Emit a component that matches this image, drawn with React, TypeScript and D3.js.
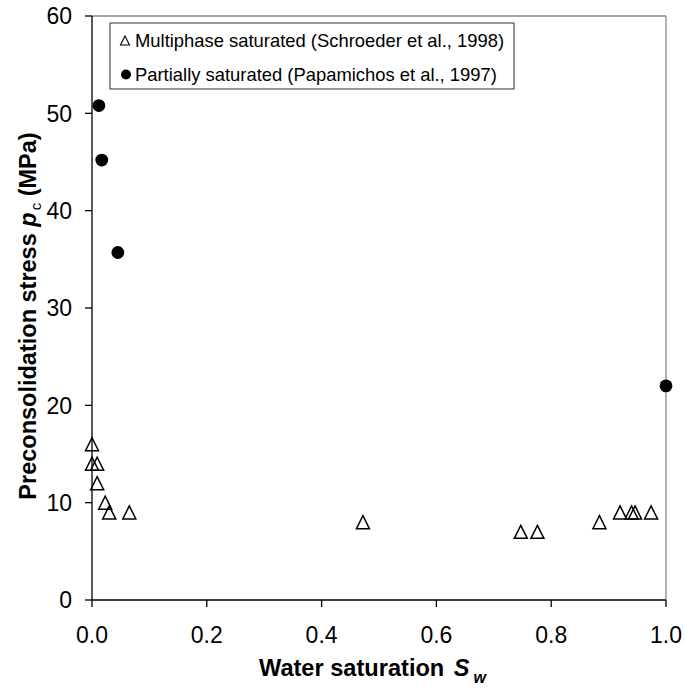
import React from "react";
import * as d3 from "d3";

const schroederSw = [0, 0, 0.009, 0.009, 0.023, 0.03, 0.065, 0.472, 0.747, 0.776, 0.884, 0.92, 0.94, 0.946, 0.974];
const schroederPc = [16, 14, 14, 12, 10, 9, 9, 8, 7, 7, 8, 9, 9, 9, 9];
const papamichosSw = [0.012, 0.017, 0.045, 1.0];
const papamichosPc = [50.8, 45.2, 35.7, 22.0];
const xTicks = [0, 0.2, 0.4, 0.6, 0.8, 1.0];
const yTicks = [0, 10, 20, 30, 40, 50, 60];
const legendLabels = [
  "Multiphase saturated (Schroeder et al., 1998)",
  "Partially saturated (Papamichos et al., 1997)",
];

const W = 685;
const H = 690;
const left = 92;
const right = 666;
const top = 16;
const bottom = 600;
const FONT = "'Liberation Sans', Arial, sans-serif";

function tri(cx: number, cy: number, s: number) {
  const h = s;
  const hw = s / 2;
  return `M${cx},${cy - h / 2}L${cx + hw},${cy + h / 2}L${cx - hw},${cy + h / 2}Z`;
}

export default function App() {
  const x = d3.scaleLinear().domain([0, 1]).range([left, right]);
  const y = d3.scaleLinear().domain([0, 60]).range([bottom, top]);

  return (
    <svg
      width={W}
      height={H}
      style={{ position: "absolute", left: 0, top: 0, background: "#fff" }}
      fontFamily={FONT}
    >
      <rect x={0} y={0} width={W} height={H} fill="#fff" />
      {/* frame */}
      <line x1={left} x2={right} y1={top} y2={top} stroke="#888" strokeWidth={1.3} />
      <line x1={right} x2={right} y1={top} y2={bottom} stroke="#888" strokeWidth={1.3} />
      <line x1={left} x2={left} y1={top} y2={bottom} stroke="#000" strokeWidth={1.3} />
      <line x1={left} x2={right} y1={bottom} y2={bottom} stroke="#000" strokeWidth={1.3} />

      {/* y ticks */}
      {yTicks.map((t) => (
        <g key={"y" + t}>
          <line x1={left - 7} x2={left} y1={y(t)} y2={y(t)} stroke="#000" strokeWidth={1.3} />
          <text x={72} y={y(t)} dy="0.36em" textAnchor="end" fontSize={23} fill="#000">
            {t}
          </text>
        </g>
      ))}
      {/* x ticks */}
      {xTicks.map((t) => (
        <g key={"x" + t}>
          <line x1={x(t)} x2={x(t)} y1={bottom} y2={bottom + 7} stroke="#000" strokeWidth={1.3} />
          <text x={x(t)} y={643} textAnchor="middle" fontSize={23} fill="#000">
            {d3.format(".1f")(t)}
          </text>
        </g>
      ))}

      {/* axis titles */}
      <text x={259} y={676} textAnchor="start" fontSize={23.6} fontWeight="bold" fill="#000">
        Water saturation{" "}
        <tspan fontStyle="italic" dx={3}>S</tspan>
        <tspan fontStyle="italic" fontSize={16} dy={7} dx={4}>w</tspan>
      </text>
      <text
        transform={`translate(36,316) rotate(-90)`}
        textAnchor="middle"
        fontSize={23.5}
        fontWeight="bold"
        fill="#000"
      >
        Preconsolidation stress{" "}
        <tspan fontStyle="italic">p</tspan>
        <tspan fontSize={15} fontWeight="normal" dy={5} dx={2}>c</tspan>
        <tspan dy={-5}>{"  (MPa)"}</tspan>
      </text>

      {/* Schroeder triangles */}
      {schroederSw.map((s, i) => (
        <path
          key={"t" + i}
          d={tri(x(s), y(schroederPc[i]), 13)}
          fill="none"
          stroke="#000"
          strokeWidth={1.5}
        />
      ))}
      {/* Papamichos circles */}
      {papamichosSw.map((s, i) => (
        <circle key={"c" + i} cx={x(s)} cy={y(papamichosPc[i])} r={6.4} fill="#000" />
      ))}

      {/* legend */}
      <rect x={110} y={23} width={404} height={66} fill="#fff" stroke="#333" strokeWidth={1} />
      <path d={tri(125, 40.5, 9)} fill="none" stroke="#000" strokeWidth={1.1} />
      <text x={135} y={40.5} dy="0.36em" fontSize={18.4} fill="#000">
        {legendLabels[0]}
      </text>
      <circle cx={126} cy={74.5} r={5} fill="#000" />
      <text x={135} y={74.5} dy="0.36em" fontSize={18.4} fill="#000">
        {legendLabels[1]}
      </text>
    </svg>
  );
}
